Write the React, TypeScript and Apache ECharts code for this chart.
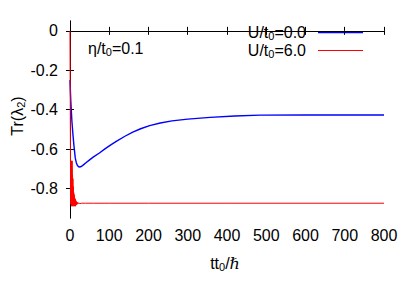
import React, { useEffect, useRef } from "react";
import * as echarts from "echarts";

const xTicks = [0, 100, 200, 300, 400, 500, 600, 700, 800];
const yTicks = [0, -0.2, -0.4, -0.6, -0.8];

// U/t0 = 0.0 (blue)
const blueT = [0, 1, 2, 3.3, 5, 7.6, 10, 13.5, 16, 19, 23, 27, 32, 41.5, 50, 60, 75, 90, 104, 118, 140, 160, 180, 203, 230, 260, 300, 357, 420, 484, 600, 800];
const blueV = [-0.25, -0.3, -0.35, -0.4, -0.46, -0.527, -0.58, -0.645, -0.668, -0.683, -0.691, -0.69, -0.684, -0.668, -0.655, -0.64, -0.62, -0.598, -0.579, -0.561, -0.535, -0.514, -0.497, -0.481, -0.468, -0.457, -0.448, -0.439, -0.432, -0.428, -0.427, -0.427];

// U/t0 = 6.0 (red)
const redT = [0, 0.5, 1, 1.5, 2, 2.5, 3, 3.5, 4, 4.5, 5, 5.5, 6, 6.5, 7, 7.5, 8, 8.5, 9, 9.5, 10, 10.5, 11, 11.5, 12, 12.5, 13, 13.5, 14, 14.5, 15, 15.5, 16, 16.5, 17, 17.5, 18, 19, 20, 22, 25, 30, 40, 60, 100, 200, 400, 800];
const redV = [0, -0.25, -0.5, -0.74, -0.88, -0.68, -0.87, -0.66, -0.89, -0.7, -0.885, -0.66, -0.89, -0.73, -0.885, -0.75, -0.89, -0.79, -0.885, -0.82, -0.89, -0.83, -0.885, -0.84, -0.89, -0.85, -0.885, -0.855, -0.89, -0.86, -0.885, -0.865, -0.884, -0.868, -0.882, -0.87, -0.88, -0.871, -0.879, -0.873, -0.877, -0.875, -0.875, -0.875, -0.875, -0.875, -0.875, -0.875];

const FONT = "Liberation Sans";

const rich = {
  a: { fontSize: 16, fontFamily: FONT, color: "#000" },
  s: { fontSize: 11, fontFamily: FONT, color: "#000", padding: [8, 0, 0, 0] },
  i: { fontSize: 16, fontFamily: "DejaVu Serif", fontStyle: "italic", color: "#000" },
};

export default function App() {
  const ref = useRef<HTMLDivElement>(null);
  useEffect(() => {
    if (!ref.current) return;
    const chart = echarts.init(ref.current, null, { renderer: "svg" });
    const blue = blueT.map((t, i) => [t, blueV[i]]);
    const red = redT.map((t, i) => [t, redV[i]]);
    const axisCommon = {
      type: "value" as const,
      axisLine: { show: true, lineStyle: { color: "#000", width: 1 } },
      axisTick: { show: true, inside: true, length: 4, lineStyle: { color: "#000" } },
      splitLine: { show: false },
    };
    chart.setOption({
      animation: false,
      backgroundColor: "#fff",
      grid: { left: 68, right: 31, top: 21, bottom: 73 },
      xAxis: [
        {
          ...axisCommon,
          min: -5,
          max: 800,
          position: "bottom",
          axisTick: { ...axisCommon.axisTick, customValues: xTicks },
          axisLabel: { customValues: xTicks, color: "#000", fontSize: 16, fontFamily: FONT, margin: 9 },
        },
        {
          ...axisCommon,
          min: -5,
          max: 800,
          position: "top",
          axisTick: { ...axisCommon.axisTick, customValues: xTicks },
          axisLabel: { show: false },
        },
      ],
      yAxis: [
        {
          ...axisCommon,
          min: -0.95,
          max: 0.05,
          position: "left",
          axisTick: { ...axisCommon.axisTick, customValues: yTicks },
          axisLabel: {
            customValues: yTicks,
            color: "#000",
            fontSize: 16,
            fontFamily: FONT,
            margin: 10,
            formatter: (v: number) => (v === 0 ? "0" : v.toFixed(1)),
          },
        },
        {
          ...axisCommon,
          min: -0.95,
          max: 0.05,
          position: "right",
          axisTick: { ...axisCommon.axisTick, customValues: yTicks },
          axisLabel: { show: false },
        },
      ],
      series: [
        {
          type: "line",
          data: blue,
          showSymbol: false,
          lineStyle: { color: "#0000ff", width: 1.4 },
          z: 2,
        },
        {
          type: "line",
          data: red,
          showSymbol: false,
          lineStyle: { color: "#ff0000", width: 1 },
          z: 3,
        },
      ],
      graphic: [
        {
          type: "text",
          x: 306,
          y: 32,
          style: { text: "{a|U/t}{s|0}{a|=0.0}", rich, align: "right", verticalAlign: "middle" },
        },
        {
          type: "text",
          x: 306,
          y: 50,
          style: { text: "{a|U/t}{s|0}{a|=6.0}", rich, align: "right", verticalAlign: "middle" },
        },
        { type: "line", shape: { x1: 318, y1: 32.5, x2: 363, y2: 32.5 }, style: { stroke: "#0000ff", lineWidth: 1.4 } },
        { type: "line", shape: { x1: 318, y1: 50.5, x2: 363, y2: 50.5 }, style: { stroke: "#ff0000", lineWidth: 1 } },
        {
          type: "text",
          x: 88,
          y: 48,
          style: { text: "{a|η/t}{s|0}{a|=0.1}", rich, align: "left", verticalAlign: "middle" },
        },
        {
          type: "text",
          x: 225,
          y: 263,
          style: { text: "{a|tt}{s|0}{a|/}{i|ℏ}", rich, align: "center", verticalAlign: "middle" },
        },
        {
          type: "text",
          x: 17,
          y: 116,
          rotation: Math.PI / 2,
          style: { text: "{a|Tr(λ}{s|2}{a|)}", rich, align: "center", verticalAlign: "middle" },
        },
      ],
    });
    return () => chart.dispose();
  }, []);
  return <div ref={ref} style={{ width: 415, height: 291, position: "absolute", left: 0, top: 0 }} />;
}
